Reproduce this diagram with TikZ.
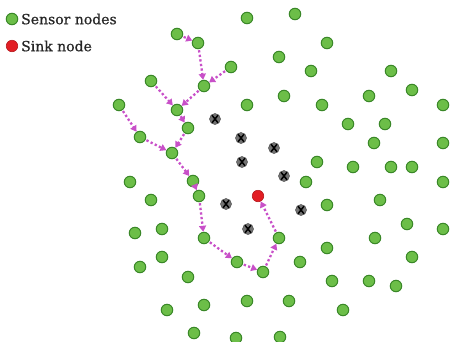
\documentclass[tikz,border=0pt]{standalone}
\usepackage{fontspec}
\setmainfont{DejaVu Serif}
\newfontfamily\legfont{DejaVu Serif}[FakeBold=0.7]
\usetikzlibrary{arrows.meta}
\definecolor{gfill}{RGB}{108,190,72}
\definecolor{gline}{RGB}{58,135,40}
\definecolor{sinkred}{RGB}{226,30,36}
\definecolor{flowpink}{RGB}{200,80,200}
\tikzset{
  sensor/.style={circle,fill=gfill,draw=gline,line width=1pt,minimum size=11.5pt,inner sep=0pt},
  sinknode/.style={circle,fill=sinkred,draw=sinkred!80!black,line width=0.6pt,minimum size=11.5pt,inner sep=0pt},
  deadnode/.style={circle,fill=black!55,draw=black!70,line width=0.5pt,minimum size=11pt,inner sep=0pt,
    path picture={\draw[black,line width=1.5pt] (path picture bounding box.center) +(-3pt,-3.8pt) -- +(3pt,3.8pt)
      (path picture bounding box.center) +(-3pt,3.8pt) -- +(3pt,-3.8pt);}},
  flow/.style={draw=flowpink,line width=2.3pt,dash pattern=on 2.3pt off 2.3pt,
    -{Triangle[length=6pt,width=7pt]},shorten >=0pt,shorten <=1pt},
  legtext/.style={anchor=west,font=\legfont\fontsize{14}{16}\selectfont,inner sep=0pt,text=black!85}
}
\begin{document}
\begin{tikzpicture}[x=1pt,y=-1pt]
\useasboundingbox (0,0) rectangle (452,341);
% legend
\node[sensor] (lg) at (12,19) {};
\node[legtext] (lgt) at (21,19) {Sensor nodes};
\node[sinknode] (lr) at (12,46) {};
\node[legtext] (lrt) at (21,46) {Sink node};
% other sensor nodes
\foreach \px/\py [count=\i] in {247/18,295/14,327/43,279/57,311/71,391/71,412/90,284/96,369/96,322/105,
  247/105,443/105,348/124,385/124,374/143,443/143,317/162,353/167,391/167,412/167,306/182,443/182,
  327/205,380/200,407/224,443/229,375/238,327/248,300/262,412/257,332/281,369/281,396/286,289/301,
  343/310,280/337,130/182,151/200,135/233,162/229,162/257,140/267,188/277,247/301,204/305,167/310,
  194/333,236/338}
  \node[sensor] (g\i) at (\px,\py) {};
% dead nodes
\foreach \px/\py [count=\i] in {215/119,241/138,274/148,242/162,284/176,226/204,301/210,248/229}
  \node[deadnode] (d\i) at (\px,\py) {};
% path nodes
\node[sensor] (p1) at (177,34) {};
\node[sensor] (p2) at (198,43) {};
\node[sensor] (p3) at (231,67) {};
\node[sensor] (p4) at (204,86) {};
\node[sensor] (p5) at (151,81) {};
\node[sensor] (p6) at (177,110) {};
\node[sensor] (p7) at (188,128) {};
\node[sensor] (p8) at (119,105) {};
\node[sensor] (p9) at (140,137) {};
\node[sensor] (p10) at (172,153) {};
\node[sensor] (p11) at (193,181) {};
\node[sensor] (p12) at (199,196) {};
\node[sensor] (p13) at (204,238) {};
\node[sensor] (p14) at (237,262) {};
\node[sensor] (p15) at (263,272) {};
\node[sensor] (p16) at (279,238) {};
\node[sinknode] (sink) at (258,196) {};
% flows
\draw[flow] (p1) -- (p2);
\draw[flow] (p2) -- (p4);
\draw[flow] (p3) -- (p4);
\draw[flow] (p4) -- (p6);
\draw[flow] (p5) -- (p6);
\draw[flow] (p6) -- (p7);
\draw[flow] (p7) -- (p10);
\draw[flow] (p8) -- (p9);
\draw[flow] (p9) -- (p10);
\draw[flow] (p10) -- (p11);
\draw[flow] (p11) -- (p12);
\draw[flow] (p12) -- (p13);
\draw[flow] (p13) -- (p14);
\draw[flow] (p14) -- (p15);
\draw[flow] (p15) -- (p16);
\draw[flow] (p16) -- (sink);
\end{tikzpicture}
\end{document}
